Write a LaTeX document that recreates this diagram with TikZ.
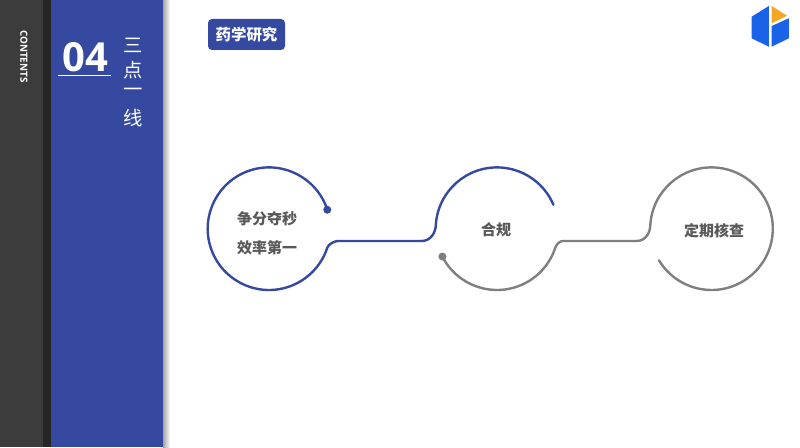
\documentclass[tikz,border=0pt]{standalone}
\usepackage{fontspec}
\newfontfamily\cjk{Noto Sans CJK SC}
\newfontfamily\latin{Open Sans}
\definecolor{bandblue}{HTML}{34499F}
\definecolor{banddark}{HTML}{3C3C3C}
\definecolor{bandblack}{HTML}{262626}
\definecolor{txtgray}{HTML}{595959}
\definecolor{linegray}{HTML}{7F7F7F}
\definecolor{logoblue}{HTML}{1A62E8}
\definecolor{logoorange}{HTML}{F5A623}
\tikzset{
  x=0.75pt,y=0.75pt,
  lab/.style={font=\cjk\bfseries\fontsize{11.25pt}{13pt}\selectfont,text=txtgray,inner sep=0pt},
  side/.style={font=\cjk\fontsize{14.5pt}{16pt}\selectfont,text=white,inner sep=0pt},
  blueline/.style={draw=bandblue,line width=1.8pt,line cap=round,line join=round},
  grayline/.style={draw=linegray,line width=1.8pt,line cap=round,line join=round},
}
\begin{document}
\begin{tikzpicture}
\useasboundingbox (0,0) rectangle (800,447);
\fill[white] (0,0) rectangle (800,447);
% side bands
\shade[left color=black!35,right color=white] (163,0) rectangle (170,447);
\fill[banddark] (0,0) rectangle (43,447);
\fill[bandblack] (43,0) rectangle (51,447);
\fill[bandblue] (51,0) rectangle (163,447);
\node[rotate=-90,text=white,inner sep=0pt,font=\latin\bfseries\fontsize{7.4pt}{9pt}\selectfont] (contents) at (24,390.5) {CONTENTS};
\node[text=white,inner sep=0pt,font=\latin\bfseries\fontsize{30pt}{32pt}\selectfont] (num) at (85,390) {04};
\draw[white,line width=0.75pt] (58,371) -- (111,371);
\node[side] (s1) at (133,402) {三};
\node[side] (s2) at (133,377) {点};
\node[side] (s3) at (133,355) {一};
\node[side] (s4) at (133,329) {线};
% badge
\node[fill=bandblue,rounded corners=3pt,minimum width=57.75pt,minimum height=23.25pt,inner sep=0pt,text=white,font=\cjk\bfseries\fontsize{11.6pt}{13pt}\selectfont] (badge) at (246.5,412.5) {药学研究};
% logo
\fill[logoblue] (768.8,441) -- (751.7,430.3) -- (751.7,408.7) -- (768.8,400.3) -- cycle;
\fill[logoorange] (771.7,441) -- (787,431.3) -- (771.7,423.7) -- cycle;
\fill[logoblue] (788.8,428.7) -- (788.8,408.7) -- (771.7,400.3) -- (771.7,421) -- cycle;
% centres
\coordinate (c1) at (269,218.3);
\coordinate (c2) at (497,218.3);
\coordinate (c3) at (711.5,218.3);
\coordinate (j1) at (338,206);
\coordinate (j2) at (421.7,206);
\coordinate (j3) at (563,206);
\coordinate (j4) at (636.7,206);
% connectors and arcs
\draw[blueline] ([shift={(18:61.3)}]c1) arc[start angle=18,end angle=342,radius=61.3]
  .. controls +(72:4) and +(-180:3) .. (j1) -- (j2)
  .. controls +(0:9) and +(-90:8) .. ([shift={(176:61.3)}]c2)
  arc[start angle=176,end angle=23,radius=61.3];
\draw[grayline] ([shift={(207:61.3)}]c2) arc[start angle=207,end angle=342,radius=61.3]
  .. controls +(72:4) and +(-180:3) .. (j3) -- (j4)
  .. controls +(0:9) and +(-90:8) .. ([shift={(176:61.3)}]c3)
  arc[start angle=176,end angle=-149,radius=61.3];
\fill[bandblue] ([shift={(18:61.3)}]c1) circle (4);
\fill[linegray] ([shift={(207:61.3)}]c2) circle (4);
% labels
\node[lab] (t1) at (267,228) {争分夺秒};
\node[lab] (t2) at (267,199.5) {效率第一};
\node[lab] (t3) at (496,217) {合规};
\node[lab] (t4) at (714,216) {定期核查};
\end{tikzpicture}
\end{document}
